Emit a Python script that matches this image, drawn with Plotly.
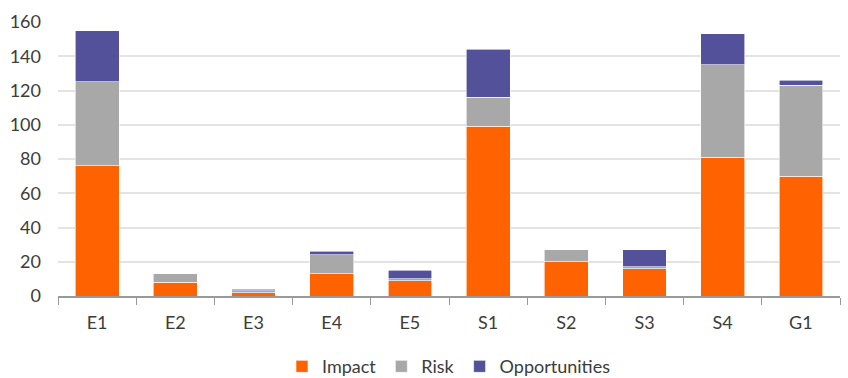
import plotly.graph_objects as go

categories = ["E1", "E2", "E3", "E4", "E5", "S1", "S2", "S3", "S4", "G1"]
impact = [76, 8, 2, 13, 9, 99, 20, 16, 81, 70]
risk = [49, 5, 1, 11, 1, 17, 7, 1, 54, 53]
opportunities = [30, 0, 1, 2, 5, 28, 0, 10, 18, 3]

series = [
    ("Impact", impact, "#FF6200"),
    ("Risk", risk, "#A8A8A8"),
    ("Opportunities", opportunities, "#525199"),
]

fig = go.Figure()
for name, vals, color in series:
    fig.add_trace(go.Bar(
        x=categories, y=vals, name=name,
        marker=dict(color=color, line=dict(color="white", width=0.6)),
    ))

font_family = "Lato, 'Open Sans', sans-serif"
fig.update_layout(
    barmode="stack",
    bargap=0.44,
    width=848, height=378,
    margin=dict(l=58, r=8, t=22, b=82, autoexpand=False),
    plot_bgcolor="white", paper_bgcolor="white",
    font=dict(family=font_family, size=18, color="#3c3c3c"),
    showlegend=True,
    legend=dict(
        orientation="h", x=0.5, xanchor="center",
        yref="container", y=0.03, yanchor="middle",
        font=dict(size=18, color="#3c3c3c"), traceorder="normal",
        itemwidth=30,
    ),
)
fig.update_xaxes(
    type="category", tickson="boundaries",
    showline=True, linecolor="#999999", linewidth=1.5,
    ticks="outside", ticklen=7, tickcolor="#999999",
    showgrid=False, tickfont=dict(size=18), ticklabelstandoff=10,
)
fig.update_yaxes(
    range=[0, 160], dtick=20, showgrid=True, gridcolor="#e3e3e3", gridwidth=1.5,
    zeroline=False, ticks="", tickfont=dict(size=18), ticklabelstandoff=16,
)

fig.write_html("out.html")
